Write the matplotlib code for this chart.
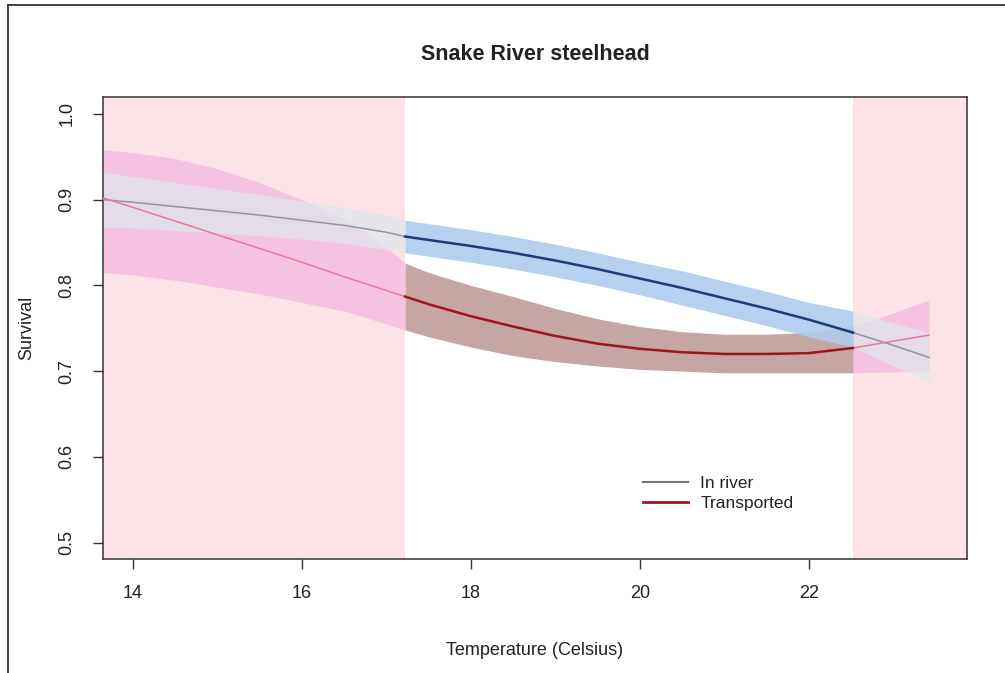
import numpy as np
import matplotlib
matplotlib.use("Agg")
import matplotlib.pyplot as plt
from matplotlib.lines import Line2D

plt.rcParams['font.family'] = ['Liberation Sans', 'DejaVu Sans']

# temperature grid (Celsius)
temp = np.array([13.65, 14.0, 14.5, 15.0, 15.5, 16.0, 16.5, 17.0, 17.22, 17.5, 18.0,
                 18.5, 19.0, 19.5, 20.0, 20.5, 21.0, 21.5, 22.0, 22.52, 23.0, 23.42])

# in-river survival, with confidence band
river_mean = np.array([0.900, 0.897, 0.892, 0.887, 0.882, 0.876, 0.870, 0.862, 0.857, 0.853, 0.846,
                       0.838, 0.829, 0.819, 0.808, 0.797, 0.785, 0.773, 0.760, 0.745, 0.730, 0.716])
river_lo = np.array([0.868, 0.867, 0.864, 0.861, 0.858, 0.854, 0.849, 0.842, 0.838, 0.834, 0.827,
                     0.819, 0.810, 0.800, 0.789, 0.777, 0.765, 0.753, 0.740, 0.728, 0.706, 0.688])
river_hi = np.array([0.932, 0.927, 0.920, 0.913, 0.906, 0.898, 0.891, 0.882, 0.876, 0.872, 0.865,
                     0.857, 0.848, 0.838, 0.827, 0.817, 0.805, 0.793, 0.780, 0.770, 0.756, 0.745])

# transported survival, with confidence band
trans_mean = np.array([0.902, 0.891, 0.875, 0.859, 0.843, 0.827, 0.810, 0.794, 0.787, 0.778, 0.764,
                       0.752, 0.741, 0.732, 0.726, 0.722, 0.720, 0.720, 0.721, 0.727, 0.735, 0.742])
trans_lo = np.array([0.815, 0.812, 0.806, 0.798, 0.790, 0.780, 0.770, 0.755, 0.748, 0.740, 0.728,
                     0.718, 0.711, 0.706, 0.702, 0.700, 0.698, 0.698, 0.698, 0.698, 0.699, 0.700])
trans_hi = np.array([0.958, 0.955, 0.948, 0.936, 0.920, 0.900, 0.878, 0.845, 0.826, 0.815, 0.800,
                     0.787, 0.773, 0.761, 0.752, 0.746, 0.743, 0.743, 0.745, 0.752, 0.768, 0.783])

# range of observed temperatures (outside is extrapolation)
obs_min, obs_max = 17.22, 22.52

x_ticks = [14, 16, 18, 20, 22]
y_ticks = [0.5, 0.6, 0.7, 0.8, 0.9, 1.0]

fig = plt.figure(figsize=(10.05, 6.73), dpi=100)
ax = fig.add_axes([103 / 1005, 1 - 559 / 673, 864 / 1005, 462 / 673])
xlim = (13.645, 23.87)
ax.set_xlim(*xlim)
ax.set_ylim(0.4808, 1.0198)

pink = '#fde3e7'
ax.axvspan(xlim[0], obs_min, color=pink, lw=0, zorder=0)
ax.axvspan(obs_max, xlim[1], color=pink, lw=0, zorder=0)

left = temp <= obs_min
mid = (temp >= obs_min) & (temp <= obs_max)
right = temp >= obs_max

# extrapolated parts: washed out colours
for m in (left, right):
    ax.fill_between(temp[m], trans_lo[m], trans_hi[m], color='#f6bfe1', alpha=0.9, lw=0, zorder=1)
    ax.fill_between(temp[m], river_lo[m], river_hi[m], color='#dfe7ec', alpha=0.75, lw=0, zorder=2)
    ax.plot(temp[m], river_mean[m], color='#8f969c', lw=1.1, zorder=3)
    ax.plot(temp[m], trans_mean[m], color='#e77a98', lw=1.1, zorder=3)

# observed range
ax.fill_between(temp[mid], trans_lo[mid], trans_hi[mid], color='#c6a6a5', lw=0, zorder=1)
ax.fill_between(temp[mid], river_lo[mid], river_hi[mid], color='#aecbee', alpha=0.9, lw=0, zorder=2)
ax.plot(temp[mid], river_mean[mid], color='#1d3a78', lw=1.8, zorder=3)
ax.plot(temp[mid], trans_mean[mid], color='#a3121f', lw=1.8, zorder=3)

ax.set_xticks(x_ticks)
ax.set_yticks(y_ticks)
ax.set_yticklabels([f'{v:.1f}' for v in y_ticks])
ax.tick_params(axis='both', direction='out', length=7, width=1, color='#333333',
               labelsize=13, labelcolor='#222222')
ax.tick_params(axis='x', pad=12)
ax.tick_params(axis='y', pad=13, labelrotation=90)
for t in ax.get_yticklabels():
    t.set_va('center')
for s in ax.spines.values():
    s.set_color('#333333')
    s.set_linewidth(1.1)

ax.set_xlabel('Temperature (Celsius)', fontsize=13, color='#222222')
ax.set_ylabel('Survival', fontsize=13, color='#222222')
ax.xaxis.set_label_coords(0.5, -0.18)
ax.yaxis.set_label_coords(-0.079, 0.5)

fig.text(535 / 1005, 1 - 54 / 673, 'Snake River steelhead', ha='center', va='center',
         fontsize=15.5, fontweight='bold', color='#222222')

handles = [Line2D([], [], color='#6f7479', lw=1.5), Line2D([], [], color='#a3122a', lw=2)]
ax.legend(handles, ['In river', 'Transported'], loc='upper left', bbox_to_anchor=(0.625, 0.18),
          frameon=False, fontsize=12.5, handlelength=2.6, handletextpad=0.7,
          labelspacing=0.3, borderpad=0, borderaxespad=0, labelcolor='#222222')

# outer frame of the figure (left and top edges)
fig.add_artist(Line2D([8 / 1005, 8 / 1005], [0, 1 - 5 / 673], transform=fig.transFigure,
                      color='#333333', lw=1.3))
fig.add_artist(Line2D([8 / 1005, 1], [1 - 5 / 673, 1 - 5 / 673], transform=fig.transFigure,
                      color='#333333', lw=1.3))

fig.savefig('out.png', dpi=100)
